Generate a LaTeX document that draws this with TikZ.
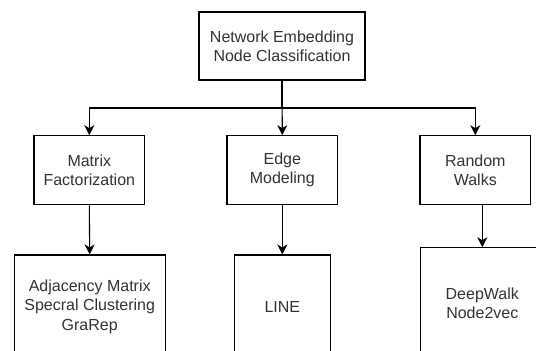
\documentclass[tikz,border=0pt]{standalone}
\usepackage{fontspec}
\setmainfont{Liberation Sans}
\usetikzlibrary{arrows.meta}
\definecolor{txt}{HTML}{333333}
\tikzset{
  box/.style={draw=black, line width=1.1pt, fill=white, inner sep=0pt,
    align=center, text=txt, font=\fontsize{16}{19.3}\selectfont},
  arr/.style={line width=1.1pt, draw=black,
    -{Stealth[length=10pt, width=10pt, inset=3pt]}},
  wire/.style={line width=1.1pt, draw=black},
}
\begin{document}
\begin{tikzpicture}[x=1pt, y=-1pt]
  \useasboundingbox (0,0) rectangle (536,351);
  \clip (0,0) rectangle (536,351);
  \fill[white] (0,0) rectangle (536,351);

  % root
  \node[box, minimum width=166pt, minimum height=68pt] (root) at (282,46)
    {Network Embedding\\Node Classification};

  % method families
  \node[box, minimum width=110.7pt, minimum height=69pt] (mf) at (89.3,170.2)
    {Matrix\\Factorization};
  \node[box, minimum width=110.7pt, minimum height=69pt] (em) at (282.3,170.2)
    {Edge\\Modeling};
  \node[box, minimum width=110.7pt, minimum height=69pt] (rw) at (475.3,170.2)
    {Random\\Walks};

  % concrete methods
  \node[box, minimum width=151.3pt, minimum height=103.4pt] (mfx) at (89.7,306.7)
    {Adjacency Matrix\\Specral Clustering\\GraRep};
  \node[box, minimum width=96pt, minimum height=103.4pt] (emx) at (282.3,306.7)
    {LINE};
  \node[box, minimum width=123pt, minimum height=110.6pt] (rwx) at (482.3,303)
    {DeepWalk\\Node2vec};

  % bus from the root
  \coordinate (bus) at (0,108);
  \draw[wire] (root.south) -- (root.south |- bus);
  \draw[arr] (root.south |- bus) -| (mf.north);
  \draw[arr] (root.south) -- (em.north);
  \draw[arr] (root.south |- bus) -| (rw.north);

  % family to methods
  \draw[arr] (mf.south) -- (mfx.north);
  \draw[arr] (em.south) -- (emx.north);
  \draw[arr] (rwx.north |- rw.south) -- (rwx.north);
\end{tikzpicture}
\end{document}
